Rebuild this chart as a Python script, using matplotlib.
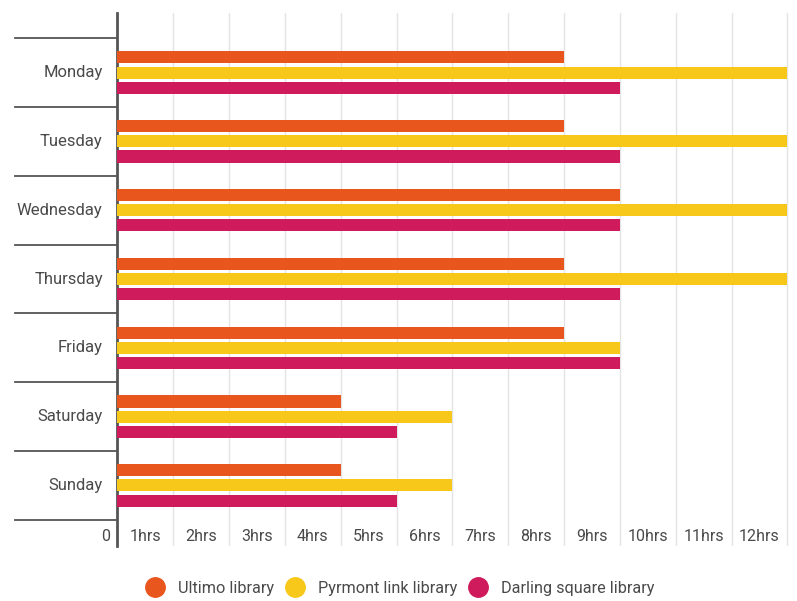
import matplotlib
matplotlib.use("Agg")
import matplotlib.pyplot as plt
from matplotlib.lines import Line2D
import numpy as np

days = ["Monday", "Tuesday", "Wednesday", "Thursday", "Friday", "Saturday", "Sunday"]
ultimo = [8, 8, 9, 8, 8, 4, 4]
pyrmont = [12, 12, 12, 12, 9, 6, 6]
darling = [9, 9, 9, 9, 9, 5, 5]
series_names = ["Ultimo library", "Pyrmont link library", "Darling square library"]
colors = ["#E8561E", "#F7C81A", "#CF1A5C"]
hour_labels = ["1hrs", "2hrs", "3hrs", "4hrs", "5hrs", "6hrs", "7hrs", "8hrs",
               "9hrs", "10hrs", "11hrs", "12hrs"]

plt.rcParams['font.family'] = ['Roboto', 'DejaVu Sans']
text_color = "#4a4a4a"

fig = plt.figure(figsize=(7.97, 6.01), dpi=100)
ax = fig.add_axes([0.1474, 0.0915, 0.99 - 0.1474, 0.9789 - 0.0915])

y = np.arange(len(days))
bh = 0.175
offs = [-0.22, 0.0, 0.22]
for vals, off, c, name in zip([ultimo, pyrmont, darling], offs, colors, series_names):
    ax.barh(y + off, vals, height=bh, color=c, label=name, zorder=3)

ax.set_xlim(0, 12.03)
ax.set_ylim(6.88, -0.87)

# vertical gridlines
for h in range(1, 13):
    ax.axvline(h, color="#e4e4e4", lw=1.0, zorder=1)

for s in ["top", "right", "bottom"]:
    ax.spines[s].set_visible(False)
ax.spines["left"].set_color("#555555")
ax.spines["left"].set_linewidth(2)
ax.set_xticks([])
ax.set_yticks([])

# category labels and separators
trans = ax.get_yaxis_transform()
sep_x0 = -(117.5 - 15) / (789 - 117.5)
for i, d in enumerate(days):
    ax.text(-0.022, i, d, transform=trans, ha="right", va="center",
            fontsize=12, color=text_color)
for b in np.arange(-0.5, len(days), 1.0):
    ax.plot([sep_x0, 0], [b, b], transform=trans, color="#555555", lw=1.3,
            clip_on=False, zorder=4)

# hour labels
for h, lab in enumerate(hour_labels, start=1):
    ax.text(h - 0.5, 6.74, lab, ha="center", va="center", fontsize=11.5,
            color=text_color)
ax.text(-0.13, 6.74, "0", ha="right", va="center", fontsize=11.5, color=text_color)

handles = [Line2D([0], [0], marker="o", color="none", markerfacecolor=c,
                  markeredgecolor=c, markersize=14) for c in colors]
fig.legend(handles, series_names, loc="center", bbox_to_anchor=(0.503, 1 - 588 / 601),
           ncol=3, frameon=False, fontsize=11.7, handlelength=1.0, handletextpad=0.9,
           columnspacing=0.8, labelcolor=text_color)

fig.savefig("out.png", dpi=100)
